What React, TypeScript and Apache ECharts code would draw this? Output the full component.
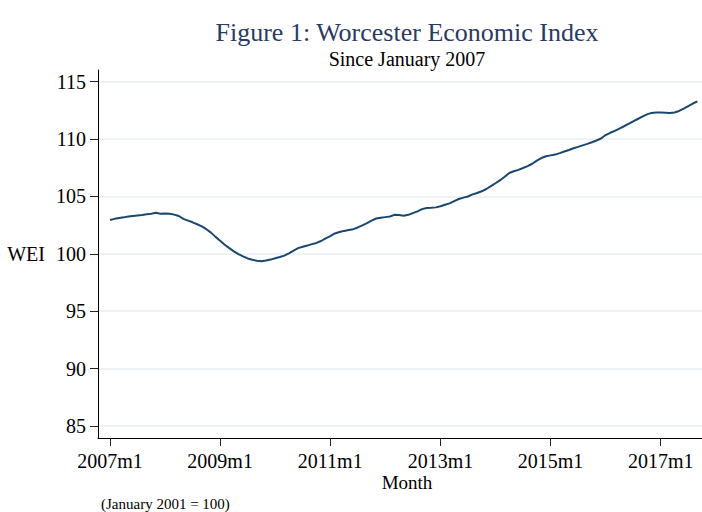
import React, { useEffect, useRef } from "react";
import * as echarts from "echarts";

// Worcester Economic Index, monthly, starting 2007m1 (month index 0)
const wei2007 = [102.95, 103.05, 103.12, 103.18, 103.25, 103.3, 103.34, 103.38, 103.45, 103.5, 103.58, 103.5];
const wei2008 = [103.52, 103.5, 103.42, 103.3, 103.05, 102.9, 102.75, 102.58, 102.4, 102.15, 101.85, 101.48];
const wei2009 = [101.15, 100.8, 100.5, 100.22, 99.98, 99.78, 99.6, 99.48, 99.4, 99.36, 99.42, 99.5];
const wei2010 = [99.62, 99.72, 99.85, 100.05, 100.28, 100.5, 100.62, 100.72, 100.85, 100.95, 101.12, 101.35];
const wei2011 = [101.55, 101.78, 101.9, 102.0, 102.08, 102.15, 102.3, 102.48, 102.68, 102.9, 103.08, 103.15];
const wei2012 = [103.2, 103.25, 103.4, 103.38, 103.32, 103.4, 103.55, 103.7, 103.9, 104.0, 104.02, 104.05];
const wei2013 = [104.15, 104.28, 104.4, 104.6, 104.78, 104.9, 105.0, 105.18, 105.3, 105.45, 105.65, 105.9];
const wei2014 = [106.15, 106.42, 106.72, 107.05, 107.2, 107.32, 107.48, 107.65, 107.85, 108.12, 108.35, 108.5];
const wei2015 = [108.58, 108.65, 108.78, 108.92, 109.05, 109.2, 109.32, 109.45, 109.58, 109.72, 109.88, 110.05];
const wei2016 = [110.35, 110.55, 110.72, 110.92, 111.12, 111.32, 111.55, 111.75, 111.95, 112.15, 112.28, 112.32];
const wei2017 = [112.32, 112.3, 112.28, 112.32, 112.45, 112.65, 112.88, 113.1, 113.28];

const weiValues = [
  ...wei2007, ...wei2008, ...wei2009, ...wei2010, ...wei2011,
  ...wei2012, ...wei2013, ...wei2014, ...wei2015, ...wei2016, ...wei2017,
];

const xTickMonths = [0, 24, 48, 72, 96, 120];
const xTickLabels = ["2007m1", "2009m1", "2011m1", "2013m1", "2015m1", "2017m1"];
const yTickValues = [85, 90, 95, 100, 105, 110, 115];

const titleText = "Figure 1: Worcester Economic Index";
const subtitleText = "Since January 2007";
const xAxisTitle = "Month";
const yAxisTitle = "WEI";
const noteText = "(January 2001 = 100)";

const FONT = "'Liberation Serif', 'DejaVu Serif', serif";

export default function App() {
  const ref = useRef<HTMLDivElement>(null);

  useEffect(() => {
    if (!ref.current) return;
    const chart = echarts.init(ref.current, undefined, { renderer: "svg" });
    chart.setOption({
      animation: false,
      backgroundColor: "#ffffff",
      grid: { left: 98, right: 0, top: 70, bottom: 74 },
      xAxis: {
        type: "value",
        min: -2.61,
        max: 129,
        axisLine: { show: true, onZero: false, lineStyle: { color: "#000", width: 1 } },
        axisTick: { show: true, length: 8, customValues: xTickMonths, lineStyle: { color: "#222", width: 1 } },
        axisLabel: {
          customValues: xTickMonths,
          formatter: (v: number) => xTickLabels[xTickMonths.indexOf(Math.round(v))] ?? "",
          fontFamily: FONT,
          fontSize: 20,
          color: "#000",
          margin: 13,
        },
        splitLine: { show: false },
      },
      yAxis: {
        type: "value",
        min: 83.955,
        max: 116.02,
        name: yAxisTitle,
        nameLocation: "middle",
        nameRotate: 0,
        nameGap: 53,
        nameTextStyle: { fontFamily: FONT, fontSize: 20, color: "#000" },
        axisLine: { show: true, onZero: false, lineStyle: { color: "#000", width: 1 } },
        axisTick: { show: true, length: 8, customValues: yTickValues, lineStyle: { color: "#222", width: 1 } },
        axisLabel: {
          customValues: yTickValues,
          fontFamily: FONT,
          fontSize: 20,
          color: "#000",
          margin: 12,
        },
        splitLine: { show: true, lineStyle: { color: "#e8eef1", width: 1.5 } },
      },
      series: [
        {
          type: "line",
          data: weiValues.map((v, i) => [i, v]),
          showSymbol: false,
          symbol: "none",
          lineStyle: { color: "#1a476f", width: 2 },
        },
      ],
      graphic: [
        {
          type: "text",
          x: 407,
          y: 32,
          style: { text: titleText, font: `26px ${FONT}`, fill: "#2b3a63", align: "center", verticalAlign: "middle" },
        },
        {
          type: "text",
          x: 407,
          y: 58.5,
          style: { text: subtitleText, font: `20px ${FONT}`, fill: "#000", align: "center", verticalAlign: "middle" },
        },
        {
          type: "text",
          x: 407,
          y: 482,
          style: { text: xAxisTitle, font: `19px ${FONT}`, fill: "#000", align: "center", verticalAlign: "middle" },
        },
        {
          type: "text",
          x: 101,
          y: 504,
          style: { text: noteText, font: `15px ${FONT}`, fill: "#000", align: "left", verticalAlign: "middle" },
        },
      ],
    });
    return () => chart.dispose();
  }, []);

  return (
    <div
      ref={ref}
      style={{ position: "fixed", left: 0, top: 0, width: 702, height: 512, background: "#fff" }}
    />
  );
}
